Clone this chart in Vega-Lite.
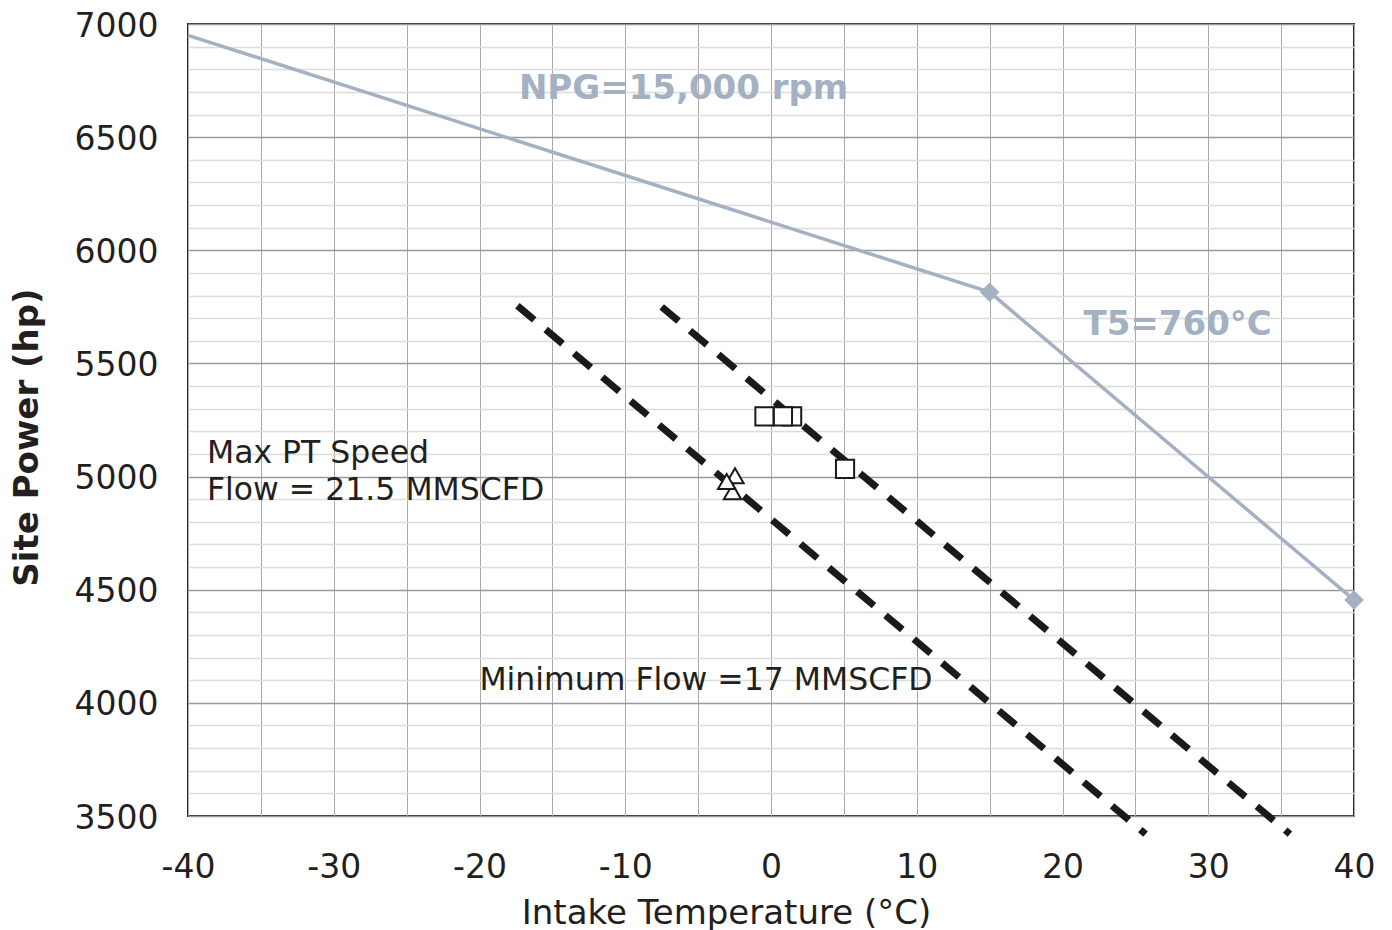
{
  "$schema": "https://vega.github.io/schema/vega-lite/v6.json",
  "width": 1166,
  "height": 792,
  "autosize": {"type": "none"},
  "padding": {"left": 188, "top": 24, "right": 38, "bottom": 114},
  "background": "white",
  "config": {
    "font": "DejaVu Sans",
    "view": {"stroke": "#2b2b2b", "strokeWidth": 2},
    "axis": {"labelFont": "DejaVu Sans", "titleFont": "DejaVu Sans", "labelColor": "#231f20", "titleColor": "#231f20", "domain": false, "ticks": false, "tickSize": 0, "labelFontSize": 33, "labelFlush": false, "labelOverlap": false}
  },
  "datasets": {
    "npg": [
      {"t": -40, "p": 6950},
      {"t": 15, "p": 5815},
      {"t": 40, "p": 4455}
    ],
    "diam": [
      {"t": 15, "p": 5815},
      {"t": 40, "p": 4455}
    ],
    "dash": [
      {"s": "A", "t": -17.4, "p": 5755},
      {"s": "A", "t": 25.7, "p": 3420},
      {"s": "B", "t": -7.5, "p": 5750},
      {"s": "B", "t": 35.6, "p": 3420}
    ],
    "squares": [
      {"k": 1, "t": -0.45, "p": 5266},
      {"k": 2, "t": 1.45, "p": 5266},
      {"k": 3, "t": 0.82, "p": 5266},
      {"k": 4, "t": 5.08, "p": 5034}
    ],
    "tris": [
      {"k": 1, "t": -2.47, "p": 5004},
      {"k": 2, "t": -2.64, "p": 4933},
      {"k": 3, "t": -3.04, "p": 4978}
    ],
    "blueText": [
      {"t": -6, "p": 6722, "txt": "NPG=15,000 rpm"},
      {"t": 27.9, "p": 5679, "txt": "T5=760°C"}
    ],
    "leftText": [
      {"t": -38.7, "p": 5109, "txt": "Max PT Speed"},
      {"t": -38.7, "p": 4945, "txt": "Flow = 21.5 MMSCFD"}
    ],
    "minText": [
      {"t": -4.46, "p": 4106, "txt": "Minimum Flow =17 MMSCFD"}
    ]
  },
  "encoding": {
    "x": {
      "field": "t", "type": "quantitative",
      "scale": {"domain": [-40, 40], "nice": false, "zero": false},
      "axis": {
        "title": "Intake Temperature (°C)",
        "titleFontSize": 34, "titleFontWeight": "normal",
        "titleX": 538, "titleY": 107, "titleBaseline": "alphabetic", "titleAlign": "center",
        "values": [-40, -35, -30, -25, -20, -15, -10, -5, 0, 5, 10, 15, 20, 25, 30, 35, 40],
        "labelExpr": "datum.value % 10 === 0 ? '' + datum.value : ''",
        "labelPadding": 35,
        "grid": true, "gridColor": "#a9a9a9", "gridWidth": 1
      }
    },
    "y": {
      "field": "p", "type": "quantitative",
      "scale": {"domain": [3500, 7000], "nice": false, "zero": false},
      "axis": {
        "title": "Site Power (hp)",
        "titleFontSize": 34, "titleFontWeight": "bold",
        "titleX": -161, "titleY": 413, "titleAlign": "center", "titleBaseline": "middle", "titleAngle": -90,
        "values": [3500, 3600, 3700, 3800, 3900, 4000, 4100, 4200, 4300, 4400, 4500, 4600, 4700, 4800, 4900, 5000, 5100, 5200, 5300, 5400, 5500, 5600, 5700, 5800, 5900, 6000, 6100, 6200, 6300, 6400, 6500, 6600, 6700, 6800, 6900, 7000],
        "labelExpr": "datum.value % 500 === 0 ? '' + datum.value : ''",
        "labelPadding": 30,
        "labelOffset": 2,
        "grid": true,
        "gridColor": {"condition": {"test": "datum.value % 500 === 0", "value": "#9a9a9a"}, "value": "#dcdcdc"},
        "gridWidth": {"condition": {"test": "datum.value % 500 === 0", "value": 1.3}, "value": 1.5}
      }
    }
  },
  "layer": [
    {
      "data": {"name": "dash"},
      "mark": {"type": "line", "color": "#1a1a1a", "strokeWidth": 7, "strokeDash": [22, 15], "strokeCap": "butt", "clip": false},
      "encoding": {"detail": {"field": "s"}}
    },
    {
      "data": {"name": "npg"},
      "mark": {"type": "line", "color": "#a3b1c3", "strokeWidth": 3.5},
      "encoding": {}
    },
    {
      "data": {"name": "diam"},
      "mark": {"type": "point", "shape": "diamond", "filled": true, "color": "#a3b1c3", "size": 380, "opacity": 1, "clip": false},
      "encoding": {}
    },
    {
      "data": {"name": "squares"},
      "mark": {"type": "point", "shape": "square", "fill": "white", "stroke": "#1a1a1a", "strokeWidth": 2, "size": 330, "opacity": 1},
      "encoding": {"order": {"field": "k"}}
    },
    {
      "data": {"name": "tris"},
      "mark": {"type": "point", "shape": "triangle-up", "fill": "white", "stroke": "#1a1a1a", "strokeWidth": 2, "size": 300, "opacity": 1},
      "encoding": {"order": {"field": "k"}}
    },
    {
      "data": {"name": "blueText"},
      "mark": {"type": "text", "color": "#a3b1c3", "fontWeight": "bold", "fontSize": 34, "align": "center", "baseline": "middle", "dy": 2, "font": "DejaVu Sans"},
      "encoding": {"text": {"field": "txt"}}
    },
    {
      "data": {"name": "leftText"},
      "mark": {"type": "text", "color": "#231f20", "fontSize": 31.5, "align": "left", "baseline": "middle", "dy": 2, "font": "DejaVu Sans"},
      "encoding": {"text": {"field": "txt"}}
    },
    {
      "data": {"name": "minText"},
      "mark": {"type": "text", "color": "#231f20", "fontSize": 31.5, "align": "center", "baseline": "middle", "dy": 2, "font": "DejaVu Sans"},
      "encoding": {"text": {"field": "txt"}}
    }
  ]
}
